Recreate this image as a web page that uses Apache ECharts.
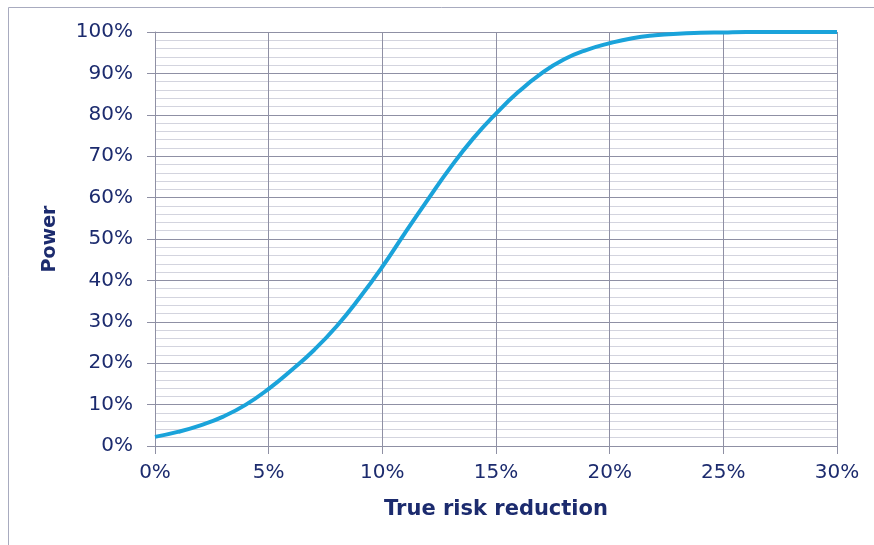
<!DOCTYPE html>
<html>
<head>
<meta charset="utf-8">
<script src="https://cdn.jsdelivr.net/npm/echarts@6/dist/echarts.min.js"></script>
<style>
html,body{margin:0;padding:0;background:#fff;}
#c{width:874px;height:545px;}
</style>
</head>
<body>
<div id="c"></div>
<script>
// True risk reduction (%)
var riskReduction = [0,1,2,3,4,5,6,7,8,9,10,11,12,13,14,15,16,17,18,19,20,21,22,23,24,25,26,27,28,29,30];
// Power (%)
var power = [2.2,3.4,5.0,7.1,10.0,13.8,18.3,23.2,29.0,35.8,43.3,51.5,59.5,67.3,74.3,80.3,85.6,90.0,93.4,95.7,97.3,98.5,99.2,99.6,99.8,99.9,100,100,100,100,100];
var xTitle = 'True risk reduction';
var yTitle = 'Power';

var navy = '#1c2b6e';
var majorGrid = '#8f90a4';
var minorGrid = '#d3d4de';

var chart = echarts.init(document.getElementById('c'), null, {renderer:'canvas'});
chart.setOption({
  animation: false,
  backgroundColor: '#fff',
  grid: {left: 155, right: 37, top: 32, bottom: 99, containLabel: false},
  graphic: [
    {type:'line', shape:{x1:8.5,y1:7.5,x2:874,y2:7.5}, style:{stroke:'#a8abbf', lineWidth:1}},
    {type:'line', shape:{x1:8.5,y1:7.5,x2:8.5,y2:545}, style:{stroke:'#a8abbf', lineWidth:1}}
  ],
  xAxis: {
    type: 'value', min: 0, max: 30, interval: 5,
    name: xTitle, nameLocation: 'middle', nameGap: 53,
    nameTextStyle: {fontFamily:'DejaVu Sans', fontWeight:'bold', fontSize:21, color:navy},
    axisLine: {show:true, lineStyle:{color:majorGrid, width:1}},
    axisTick: {show:true, length:8, lineStyle:{color:majorGrid}},
    axisLabel: {margin:17, fontFamily:'DejaVu Sans', fontSize:20, color:navy,
      formatter: function(v){return Math.round(v)+'%';}},
    splitLine: {show:true, lineStyle:{color:majorGrid, width:1}}
  },
  yAxis: {
    type: 'value', min: 0, max: 100, interval: 10,
    name: yTitle, nameLocation: 'middle', nameGap: 95, nameRotate: 90,
    nameTextStyle: {fontFamily:'DejaVu Sans', fontWeight:'bold', fontSize:19, color:navy},
    axisLine: {show:true, lineStyle:{color:majorGrid, width:1}},
    axisTick: {show:true, length:8, lineStyle:{color:majorGrid}},
    axisLabel: {margin:22, fontFamily:'DejaVu Sans', fontSize:20, color:navy,
      formatter: function(v){return Math.round(v)+'%';}},
    splitLine: {show:true, lineStyle:{color:majorGrid, width:1}},
    minorTick: {show:false, splitNumber:5},
    minorSplitLine: {show:true, lineStyle:{color:minorGrid, width:1}}
  },
  series: [{
    type: 'line',
    data: riskReduction.map(function(x,i){return [x, power[i]];}),
    smooth: true,
    showSymbol: false,
    lineStyle: {color:'#1aa3da', width:4},
    z: 5
  }]
});
</script>
</body>
</html>
